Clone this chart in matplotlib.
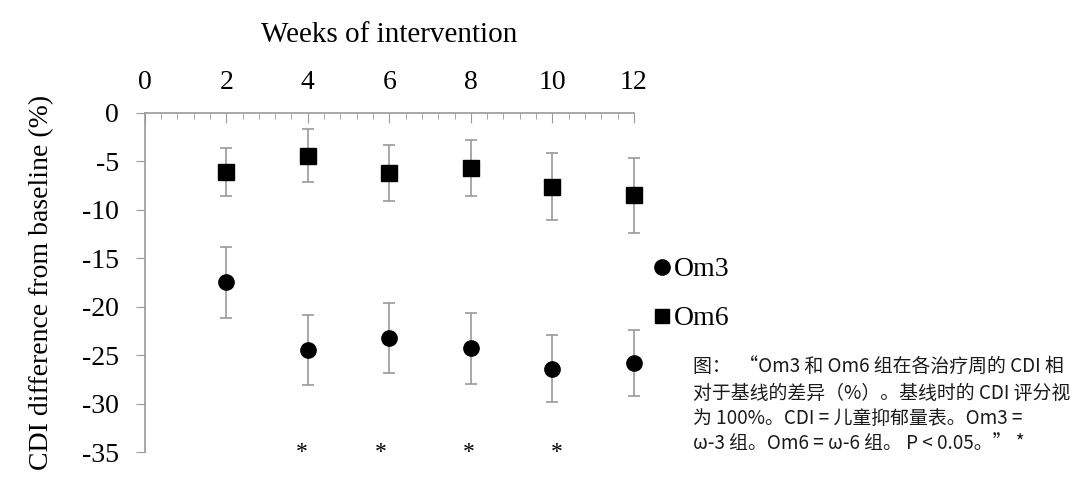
import numpy as np
import matplotlib
matplotlib.use('Agg')
import matplotlib.pyplot as plt
from matplotlib.ticker import AutoMinorLocator
from matplotlib.lines import Line2D

# data
weeks = [2, 4, 6, 8, 10, 12]
om3_mean = [-17.5, -24.5, -23.2, -24.3, -26.4, -25.8]
om3_err = [3.7, 3.6, 3.6, 3.7, 3.45, 3.4]
om6_mean = [-6.1, -4.4, -6.2, -5.7, -7.6, -8.5]
om6_err = [2.45, 2.75, 2.85, 2.9, 3.45, 3.9]
star_x = [3.85, 5.8, 7.95, 10.1]
star_y = -35.0

xticks = [0, 2, 4, 6, 8, 10, 12]
yticks = [0, -5, -10, -15, -20, -25, -30, -35]

caption = ('图：  “Om3 和 Om6 组在各治疗周的 CDI 相\n'
           '对于基线的差异（%）。基线时的 CDI 评分视\n'
           '为 100%。CDI = 儿童抑郁量表。Om3 =\n'
           'ω-3 组。Om6 = ω-6 组。 P < 0.05。” *')

serif = 'Liberation Serif'
axcol = '#9a9a9a'

fig = plt.figure(figsize=(10.8, 5.01), dpi=100)
ax = fig.add_axes([0.134, 0.0978, 0.453, 0.6767])

for mean, err, mk in [(om6_mean, om6_err, 's'), (om3_mean, om3_err, 'o')]:
    eb = ax.errorbar(weeks, mean, yerr=err, fmt=mk, color='black', ms=11,
                     ecolor=axcol, elinewidth=1.2, capsize=4.5, capthick=1.2, zorder=3)
    for art in [eb.lines[0]] + list(eb.lines[1]) + list(eb.lines[2]):
        art.set_clip_on(False)
for sx in star_x:
    ax.text(sx, star_y, '*', fontsize=17, fontfamily=serif, ha='center', va='center')

ax.set_xlim(0, 12)
ax.set_ylim(-35, 0)
ax.xaxis.tick_top()
ax.xaxis.set_label_position('top')
ax.set_xticks(xticks)
ax.set_yticks(yticks)
ax.set_yticklabels([str(v) for v in yticks])
ax.xaxis.set_minor_locator(AutoMinorLocator(5))
ax.tick_params(axis='x', which='major', direction='in', length=7, color=axcol,
               labelsize=20, pad=13)
ax.tick_params(axis='x', which='minor', direction='in', length=4, color=axcol)
ax.tick_params(axis='y', direction='out', length=6.5, color=axcol, labelsize=20, pad=12)
for lab in ax.get_xticklabels() + ax.get_yticklabels():
    lab.set_fontfamily(serif)

for s in ['right', 'bottom']:
    ax.spines[s].set_visible(False)
for s in ['top', 'left']:
    ax.spines[s].set_color(axcol)
    ax.spines[s].set_linewidth(1.2)

ax.set_xlabel('Weeks of intervention', fontsize=21, fontfamily=serif, labelpad=20)
ax.set_ylabel('CDI difference from baseline (%)', fontsize=20, fontfamily=serif, labelpad=20)

handles = [Line2D([], [], marker='o', ls='none', color='black', ms=11),
           Line2D([], [], marker='s', ls='none', color='black', ms=10)]
fig.legend(handles, ['Om3', 'Om6'], loc='upper left', bbox_to_anchor=(0.583, 0.537),
           frameon=False, prop={'family': serif, 'size': 20}, handlelength=0.5,
           handletextpad=0.2, labelspacing=0.85)

fig.text(0.642, 0.19, caption, fontsize=13.6, family=['Noto Sans CJK SC', 'DejaVu Sans'],
         va='center', ha='left', linespacing=1.27, color='#1a1a1a')

fig.savefig('out.png', dpi=100)
